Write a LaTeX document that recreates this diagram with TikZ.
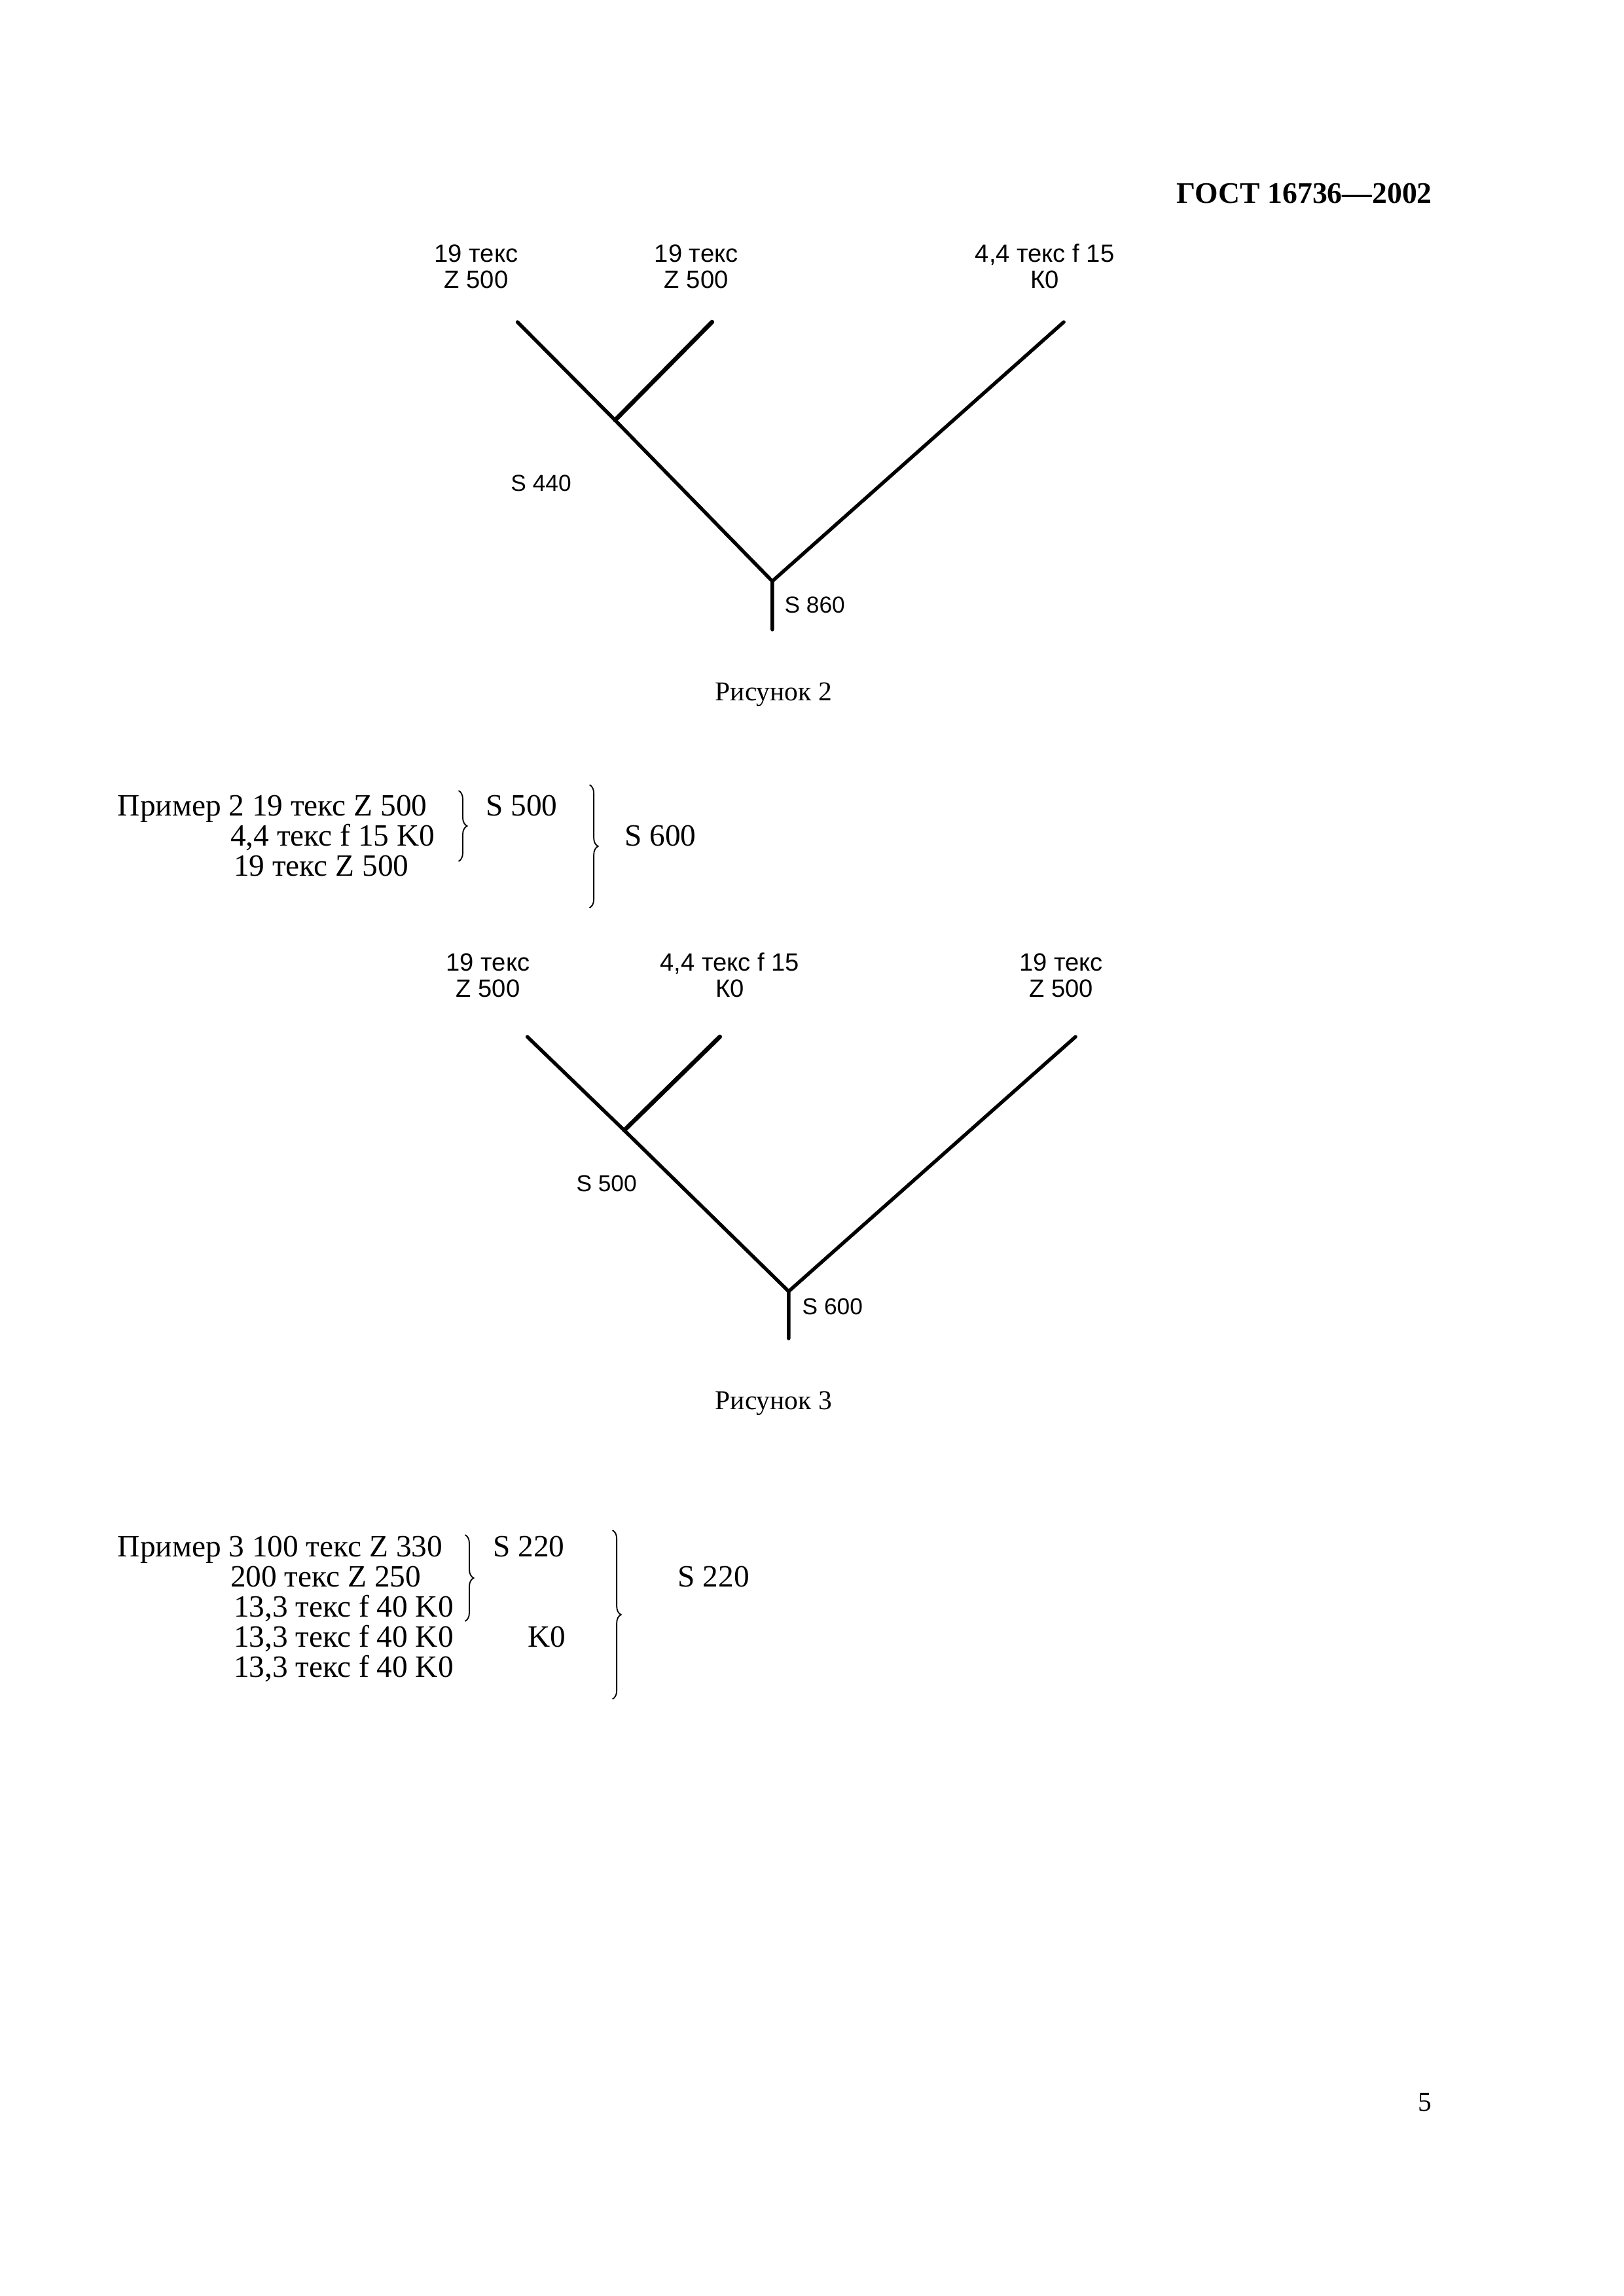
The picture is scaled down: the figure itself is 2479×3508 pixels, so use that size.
\documentclass[tikz,border=0pt]{standalone}
\usepackage{fontspec}
\setmainfont{Liberation Serif}
\newfontfamily\arialfont{Liberation Sans}
\usetikzlibrary{positioning,decorations.pathreplacing}

\begin{document}
\begin{tikzpicture}[
    x=0.08471mm, y=-0.08466mm,
    txt/.style={anchor=base west, inner sep=0pt, font=\fontsize{11.4}{12}\selectfont},
    figcap/.style={anchor=base, inner sep=0pt, font=\fontsize{10}{12}\selectfont},
    lbl/.style={align=center, inner sep=0pt, font=\arialfont\fontsize{9.2}{9.6}\selectfont},
    slbl/.style={inner sep=0pt, font=\arialfont\fontsize{8.5}{9}\selectfont},
    branch/.style={line width=1.3pt, line cap=round, line join=round},
    brc/.style={decorate, decoration={brace, amplitude=1.1mm}, line width=0.45pt}
  ]
    \path[use as bounding box, fill=white] (0,0) rectangle (2479,3508);

    % header and page number
    \node[anchor=base east, inner sep=0pt, font=\bfseries\fontsize{11}{13}\selectfont] (head) at (2187,310) {ГОСТ 16736—2002};
    \node[figcap] (pnum) at (2175,3225) {5};

    % figure 2
    \coordinate (a1) at (790,492);
    \coordinate (a2) at (1087,492);
    \coordinate (a3) at (1624,492);
    \coordinate (aj) at (939,642);
    \coordinate (ar) at (1179,888);
    \coordinate (as) at (1179,962);
    \node[lbl] (a1l) at (727,407) {19 текс\\Z 500};
    \node[lbl] (a2l) at (1063,407) {19 текс\\Z 500};
    \node[lbl] (a3l) at (1595,407) {4,4 текс f 15\\К0};
    \draw[branch] (a1) -- (aj) -- (ar) -- (as);
    \draw[branch, line width=1.6pt] (a2) -- (aj);
    \draw[branch] (a3) -- (ar);
    \node[slbl] (s440) at (826,738) {S 440};
    \node[slbl, anchor=west] (s860) at (1197,924) {S 860};
    \node[figcap] (fig2) at (1181,1070) {Рисунок 2};

    % example 2
    \node[txt] (ex2a) at (179,1246) {Пример 2 19 текс Z 500};
    \node[txt] (ex2b) at (351,1292) {4,4 текс f 15 K0};
    \node[txt] (ex2c) at (356,1338) {19 текс Z 500};
    \draw[brc] (700,1208) -- (700,1316);
    \node[txt] (ex2s1) at (741,1246) {S 500};
    \draw[brc] (900,1199) -- (900,1387);
    \node[txt] (ex2s2) at (953,1292) {S 600};

    % figure 3
    \coordinate (b1) at (805,1584);
    \coordinate (b2) at (1099,1584);
    \coordinate (b3) at (1642,1584);
    \coordinate (bj) at (953,1727);
    \coordinate (br) at (1204,1973);
    \coordinate (bs) at (1204,2045);
    \node[lbl] (b1l) at (745,1490) {19 текс\\Z 500};
    \node[lbl] (b2l) at (1114,1490) {4,4 текс f 15\\К0};
    \node[lbl] (b3l) at (1620,1490) {19 текс\\Z 500};
    \draw[branch] (b1) -- (bj) -- (br) -- (bs);
    \draw[branch, line width=1.6pt] (b2) -- (bj);
    \draw[branch] (b3) -- (br);
    \node[slbl] (s500) at (926,1808) {S 500};
    \node[slbl, anchor=west] (s600) at (1224,1996) {S 600};
    \node[figcap] (fig3) at (1181,2153) {Рисунок 3};

    % example 3
    \node[txt] (ex3a) at (179,2378) {Пример 3 100 текс Z 330};
    \node[txt] (ex3b) at (351,2424) {200 текс Z 250};
    \node[txt] (ex3c) at (356,2470) {13,3 текс f 40 K0};
    \node[txt] (ex3d) at (356,2516) {13,3 текс f 40 K0};
    \node[txt] (ex3e) at (356,2562) {13,3 текс f 40 K0};
    \draw[brc] (710,2345) -- (710,2477);
    \node[txt] (ex3s1) at (752,2378) {S 220};
    \node[txt] (ex3k) at (805,2516) {K0};
    \draw[brc] (935,2338) -- (935,2596);
    \node[txt] (ex3s2) at (1034,2424) {S 220};
\end{tikzpicture}
\end{document}
